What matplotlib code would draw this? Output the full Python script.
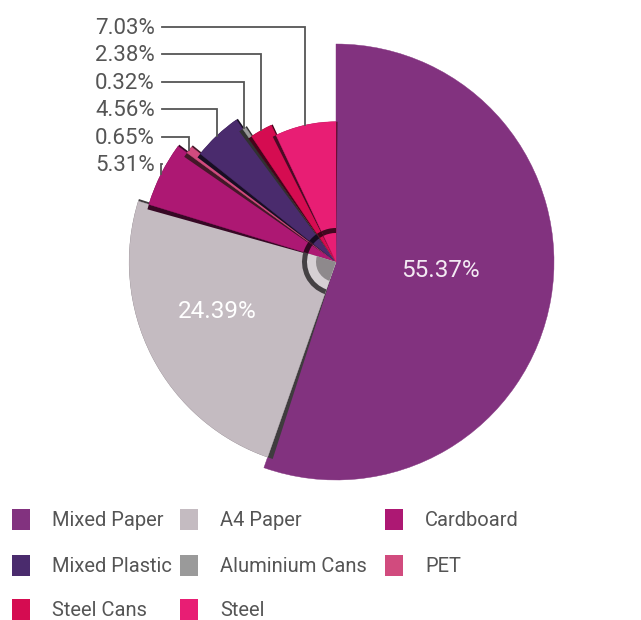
import numpy as np
import matplotlib.pyplot as plt
from matplotlib import patches
from matplotlib.colors import to_rgb

# data, clockwise from 12 o'clock
categories = ['Mixed Paper', 'A4 Paper', 'Cardboard', 'PET', 'Mixed Plastic',
              'Aluminium Cans', 'Steel Cans', 'Steel']
shares = [55.37, 24.39, 5.31, 0.65, 4.56, 0.32, 2.38, 7.03]
colors = ['#82327f', '#c4bbc1', '#ad1873', '#d14b7e', '#4a2b6d',
          '#9a9a9a', '#d50c51', '#e81e74']
legend_rows = [['Mixed Paper', 'A4 Paper', 'Cardboard'],
               ['Mixed Plastic', 'Aluminium Cans', 'PET'],
               ['Steel Cans', 'Steel']]
outside = ['Steel', 'Steel Cans', 'Aluminium Cans', 'Mixed Plastic', 'PET', 'Cardboard']

plt.rcParams['font.family'] = ['Roboto', 'DejaVu Sans']

W, H = 641, 620
cx, cy = 336, H - 262
R0, dR = 218, 11.1
txt_col = '#555555'

def dark(c, f=0.32):
    return tuple(v * f for v in to_rgb(c))

fig = plt.figure(figsize=(W / 100, H / 100), dpi=100)
ax = fig.add_axes([0, 0, 1, 1])
ax.set_xlim(0, W)
ax.set_ylim(0, H)
ax.axis('off')

ang = 360 * np.array(shares) / sum(shares)
t2 = 90 - np.concatenate([[0], np.cumsum(ang)[:-1]])
t1 = t2 - ang
radii = [R0 - dR * i for i in range(len(shares))]

for i in range(len(shares)):
    if i > 0:
        ax.add_patch(patches.Wedge((cx, cy), radii[i], t1[i] - 0.6, t2[i] + 1.5,
                                   fc=dark(colors[i]), ec='none'))
    ax.add_patch(patches.Wedge((cx, cy), radii[i], t1[i], t2[i],
                               fc=colors[i], ec=colors[i], lw=0.3))

# inner ring (3d look around the centre)
ax.add_patch(patches.Wedge((cx, cy), 29, t1[1], t2[1], fc='#d6d0d4', ec='none'))
ax.add_patch(patches.Wedge((cx, cy), 20, t1[1], t2[1], fc='#8e898c', ec='none'))
for i in range(1, len(shares)):
    ax.add_patch(patches.Wedge((cx, cy), 34, t1[i], t2[i], width=5,
                               fc=dark(colors[i], 0.28 if i > 1 else 0.35), ec='none'))

# labels inside the two big slices
ax.text(440, H - 277, f'{shares[0]:.2f}%', ha='center', va='baseline',
        fontsize=17.5, color='#f3eaf3')
ax.text(217, H - 318, f'{shares[1]:.2f}%', ha='center', va='baseline',
        fontsize=17.5, color='#ffffff')

# leader lines for the small slices
for k, name in enumerate(outside):
    i = categories.index(name)
    r = radii[i]
    ly = H - (27 + 27.4 * k)
    ax.text(155, ly - 7, f'{shares[i]:.2f}%', ha='right', va='baseline',
            fontsize=16, color=txt_col)
    dy = ly - cy
    hit = None
    if abs(dy) < r:
        dx = np.sqrt(r ** 2 - dy ** 2)
        phi = np.degrees(np.arctan2(dy, -dx))
        if t1[i] <= phi <= t2[i]:
            hit = cx - dx
    if hit is not None:
        xs, ys = [162, hit], [ly, ly]
    else:
        mid = np.radians((t1[i] + t2[i]) / 2)
        px, py = cx + r * np.cos(mid), cy + r * np.sin(mid)
        xs, ys = [162, px, px], [ly, ly, py]
    ax.plot(xs, ys, color=txt_col, lw=1.3, solid_joinstyle='miter')

# legend
col_x = [12, 180, 385]
row_base = [526, 572, 616]
for r_, row in enumerate(legend_rows):
    for c_, name in enumerate(row):
        i = categories.index(name)
        ax.add_patch(patches.Rectangle((col_x[c_], H - row_base[r_] - 4), 18, 21.5,
                                       fc=colors[i], ec='none'))
        ax.text(col_x[c_] + 40, H - row_base[r_], name, ha='left', va='baseline',
                fontsize=14.5, color=txt_col)

fig.savefig('out.png', dpi=100)
